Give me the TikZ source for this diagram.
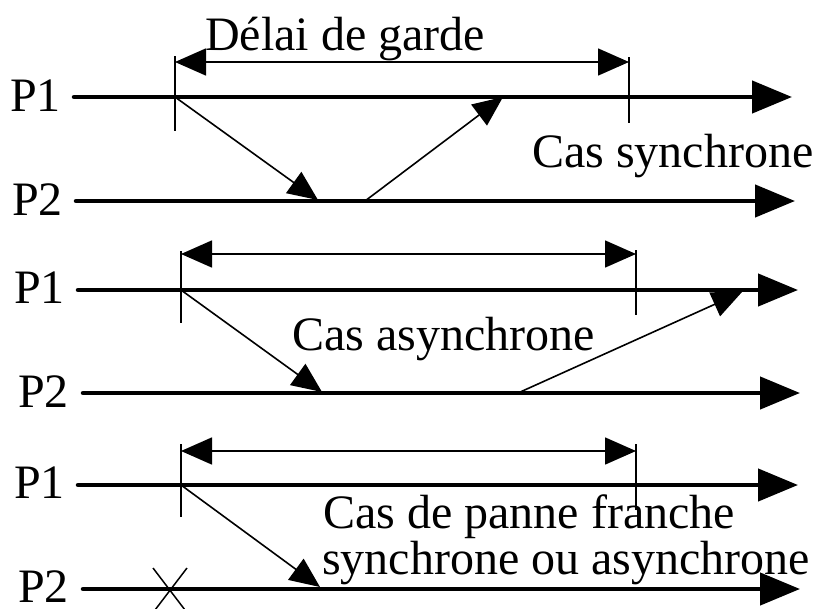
\documentclass[tikz,border=0pt]{standalone}
\usepackage{fontspec}
\setmainfont{Liberation Serif}
\usetikzlibrary{arrows.meta}

\tikzset{
  timeline/.style={line width=4.5pt, line cap=round, -{Triangle[length=40pt,width=32pt]}},
  msg/.style={line width=1.6pt, -{Triangle[length=30pt,width=26pt]}},
  span/.style={line width=1.6pt, {Triangle[length=31pt,width=27pt]}-{Triangle[length=31pt,width=27pt]}},
  tickmark/.style={line width=1.6pt},
  lbl/.style={font=\fontsize{48}{48}\selectfont, inner sep=0pt},
}

\begin{document}
\begin{tikzpicture}[x=1pt,y=-1pt]
  \useasboundingbox (0,0) rectangle (819,608);

  % ---------- synchronous case ----------
  \coordinate (a1s) at (74,97);   \coordinate (a1e) at (792,97);
  \coordinate (a2s) at (76,201);  \coordinate (a2e) at (795,201);
  \node[lbl, anchor=base east] (aP1) at (61,111) {P1};
  \node[lbl, anchor=base east] (aP2) at (63,215) {P2};
  \draw[timeline] (a1s) -- (a1e);
  \draw[timeline] (a2s) -- (a2e);
  \coordinate (aLt) at (175,56);  \coordinate (aLb) at (175,131);
  \coordinate (aRt) at (629,57);  \coordinate (aRb) at (629,123);
  \draw[tickmark] (aLt) -- (aLb);
  \draw[tickmark] (aRt) -- (aRb);
  \coordinate (aSl) at (175,62);  \coordinate (aSr) at (629,62);
  \draw[span] (aSl) -- (aSr);
  \coordinate (aM1s) at (175,97);  \coordinate (aM1e) at (318,200);
  \coordinate (aM2s) at (365,201); \coordinate (aM2e) at (503,97);
  \draw[msg] (aM1s) -- (aM1e);
  \draw[msg] (aM2s) -- (aM2e);
  \node[lbl, anchor=base west] (delai) at (205,50) {Délai de garde};
  \node[lbl, anchor=base west] (sync) at (532,167) {Cas synchrone};

  % ---------- asynchronous case ----------
  \coordinate (b1s) at (78,290);  \coordinate (b1e) at (798,290);
  \coordinate (b2s) at (83,393);  \coordinate (b2e) at (800,393);
  \node[lbl, anchor=base east] (bP1) at (65,303) {P1};
  \node[lbl, anchor=base east] (bP2) at (69,407) {P2};
  \draw[timeline] (b1s) -- (b1e);
  \draw[timeline] (b2s) -- (b2e);
  \coordinate (bLt) at (181,251); \coordinate (bLb) at (181,323);
  \coordinate (bRt) at (636,250); \coordinate (bRb) at (636,315);
  \draw[tickmark] (bLt) -- (bLb);
  \draw[tickmark] (bRt) -- (bRb);
  \coordinate (bSl) at (181,254); \coordinate (bSr) at (636,254);
  \draw[span] (bSl) -- (bSr);
  \coordinate (bM1s) at (181,290); \coordinate (bM1e) at (322,392);
  \coordinate (bM2s) at (518,393); \coordinate (bM2e) at (742,292);
  \draw[msg] (bM1s) -- (bM1e);
  \draw[msg] (bM2s) -- (bM2e);
  \node[lbl, anchor=base west] (async) at (292,350) {Cas asynchrone};

  % ---------- crash case ----------
  \coordinate (c1s) at (78,485);  \coordinate (c1e) at (798,485);
  \coordinate (c2s) at (83,589);  \coordinate (c2e) at (800,589);
  \node[lbl, anchor=base east] (cP1) at (65,498) {P1};
  \node[lbl, anchor=base east] (cP2) at (69,602) {P2};
  \draw[timeline] (c1s) -- (c1e);
  \draw[timeline] (c2s) -- (c2e);
  \coordinate (cLt) at (181,444); \coordinate (cLb) at (181,517);
  \coordinate (cRt) at (636,444); \coordinate (cRb) at (636,510);
  \draw[tickmark] (cLt) -- (cLb);
  \draw[tickmark] (cRt) -- (cRb);
  \coordinate (cSl) at (181,451); \coordinate (cSr) at (636,451);
  \draw[span] (cSl) -- (cSr);
  \coordinate (cM1s) at (181,485); \coordinate (cM1e) at (320,587);
  \draw[msg] (cM1s) -- (cM1e);
  % crash mark on P2
  \coordinate (xA) at (153,568); \coordinate (xB) at (185,610);
  \coordinate (xC) at (187,568); \coordinate (xD) at (155,610);
  \draw[line width=1.5pt] (xA) -- (xB);
  \draw[line width=1.5pt] (xC) -- (xD);
  \node[lbl, anchor=base west] (crash1) at (323,528) {Cas de panne franche};
  \node[lbl, anchor=base west] (crash2) at (322,574) {synchrone ou asynchrone};
\end{tikzpicture}
\end{document}
